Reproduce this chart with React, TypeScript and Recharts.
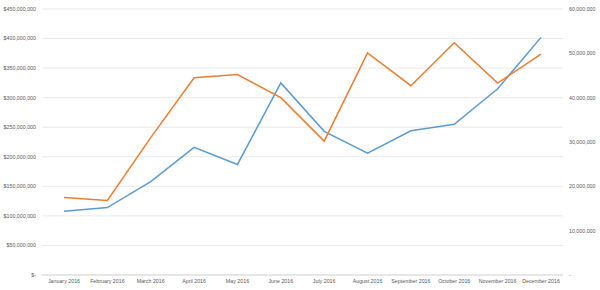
import React from 'react';
import { LineChart, Line, XAxis, YAxis, CartesianGrid } from 'recharts';

// monthly figures
const months = [
  'January 2016', 'February 2016', 'March 2016', 'April 2016', 'May 2016', 'June 2016',
  'July 2016', 'August 2016', 'September 2016', 'October 2016', 'November 2016', 'December 2016',
];
const revenue = [
  108000000, 114000000, 158000000, 216000000, 187000000, 325000000,
  243000000, 206000000, 244000000, 255000000, 315000000, 402000000,
];
const volume = [
  17500000, 16800000, 31000000, 44500000, 45200000, 40000000,
  30200000, 50100000, 42700000, 52400000, 43300000, 49800000,
];
const leftTicks = [0, 50000000, 100000000, 150000000, 200000000, 250000000, 300000000, 350000000, 400000000, 450000000];
const rightTicks = [0, 10000000, 20000000, 30000000, 40000000, 50000000, 60000000];

const textColor = '#595959';
const font = 'Liberation Sans, Arial, sans-serif';

const fmtDollar = (v: number) => (v === 0 ? '$-' : '$' + v.toLocaleString('en-US'));
const fmtPlain = (v: number) => (v === 0 ? '-' : v.toLocaleString('en-US'));

const App = () => {
  const data = months.map((m, i) => ({
    month: m,
    revenue: revenue[i],
    volume: volume[i],
  }));

  const tick = { fill: textColor, fontSize: 5.3, fontFamily: font };

  return (
    <div style={{ position: 'absolute', left: 0, top: 0, width: 600, height: 290, background: '#fff' }}>
      <LineChart width={600} height={290} data={data} margin={{ top: 9, right: 0, bottom: 0, left: 0 }}>
        <CartesianGrid yAxisId="left" vertical={false} stroke="#E3E3E3" strokeWidth={0.8} />
        <XAxis
          dataKey="month"
          height={15}
          padding={{ left: 22, right: 22 }}
          tick={tick}
          tickLine={false}
          axisLine={{ stroke: '#D9D9D9' }}
          tickSize={2}
          tickMargin={2}
          interval={0}
        />
        <YAxis
          yAxisId="left"
          orientation="left"
          width={42}
          domain={[0, 450000000]}
          ticks={leftTicks}
          tickFormatter={fmtDollar}
          tick={tick}
          tickLine={false}
          axisLine={false}
          tickSize={4}
          tickMargin={2}
          interval={0}
        />
        <YAxis
          yAxisId="right"
          orientation="right"
          width={37}
          domain={[0, 60000000]}
          ticks={rightTicks}
          tickFormatter={fmtPlain}
          tick={tick}
          tickLine={false}
          axisLine={false}
          tickSize={4}
          tickMargin={2}
          interval={0}
        />
        <Line
          yAxisId="left"
          type="linear"
          dataKey="revenue"
          stroke="#5B9BD5"
          strokeWidth={1.5}
          dot={false}
          isAnimationActive={false}
        />
        <Line
          yAxisId="right"
          type="linear"
          dataKey="volume"
          stroke="#ED7D31"
          strokeWidth={1.5}
          dot={false}
          isAnimationActive={false}
        />
      </LineChart>
    </div>
  );
};

export default App;
